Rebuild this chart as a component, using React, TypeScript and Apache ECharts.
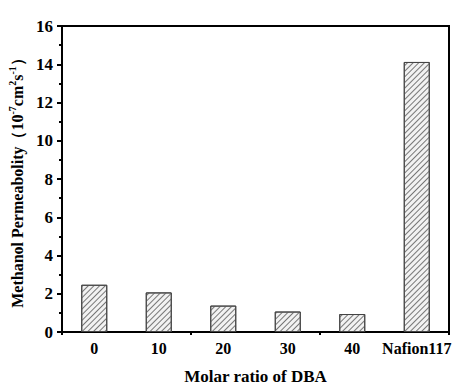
import React, { useEffect, useRef } from "react";
import * as echarts from "echarts";

const categories = ["0", "10", "20", "30", "40", "Nafion117"];
const permeability = [2.47, 2.07, 1.38, 1.07, 0.94, 14.12];
const yTicks = { min: 0, max: 16, interval: 2 };

export default function App() {
  const ref = useRef<HTMLDivElement>(null);
  useEffect(() => {
    const chart = echarts.init(ref.current!, null, { renderer: "svg" });
    const font = "Times New Roman";
    chart.setOption({
      animation: false,
      backgroundColor: "#fff",
      textStyle: { fontFamily: font },
      grid: {
        left: 62,
        right: 14,
        top: 26,
        bottom: 55,
        outerBoundsMode: "none",
        containLabel: false,
        show: true,
        borderColor: "#000",
        borderWidth: 2,
        backgroundColor: "transparent",
      },
      xAxis: [
        {
          type: "category",
          data: categories,
          name: "Molar ratio of DBA",
          nameLocation: "middle",
          nameGap: 36,
          nameTextStyle: { fontFamily: font, fontWeight: "bold", fontSize: 17, color: "#000" },
          axisLine: { lineStyle: { color: "#000", width: 2 } },
          axisTick: { alignWithLabel: true, length: 5, lineStyle: { color: "#000", width: 2 } },
          axisLabel: { fontFamily: font, fontWeight: "bold", fontSize: 16, color: "#000", margin: 8, interval: 0 },
        },
        {
          type: "category",
          data: categories,
          position: "bottom",
          axisLine: { show: false },
          axisTick: { show: true, length: 3, lineStyle: { color: "#000", width: 2 } },
          axisLabel: { show: false },
        },
      ],
      yAxis: {
        type: "value",
        min: yTicks.min,
        max: yTicks.max,
        interval: yTicks.interval,
        name: "{b|Methanol Permeabolity（10}{s|-7}{b|cm}{s|2}{b|s}{s|-1}{b|）}",
        nameLocation: "middle",
        nameGap: 31,
        nameRotate: 90,
        nameTextStyle: {
          fontFamily: font,
          rich: {
            b: { fontFamily: font, fontWeight: "bold", fontSize: 16, color: "#000", lineHeight: 18, verticalAlign: "bottom" },
            s: { fontFamily: font, fontWeight: "bold", fontSize: 10, color: "#000", lineHeight: 18, verticalAlign: "top" },
          },
        },
        axisLine: { show: true, lineStyle: { color: "#000", width: 2 } },
        axisTick: { show: true, length: 5, lineStyle: { color: "#000", width: 2 } },
        minorTick: { show: true, splitNumber: 2, length: 3, lineStyle: { color: "#000", width: 2 } },
        splitLine: { show: false },
        axisLabel: { fontFamily: font, fontWeight: "bold", fontSize: 17, color: "#000", margin: 9 },
      },
      series: [
        {
          type: "bar",
          data: permeability,
          barWidth: 26,
          itemStyle: {
            color: "#f2f2f2",
            borderColor: "#444",
            borderWidth: 1,
            decal: {
              symbol: "rect",
              symbolSize: 1,
              dashArrayX: [1, 0],
              dashArrayY: [1, 3],
              rotation: -Math.PI / 4,
              color: "#777",
            },
          },
        },
      ],
    });
    return () => chart.dispose();
  }, []);
  return <div ref={ref} style={{ position: "fixed", left: 0, top: 0, width: 463, height: 387 }} />;
}
